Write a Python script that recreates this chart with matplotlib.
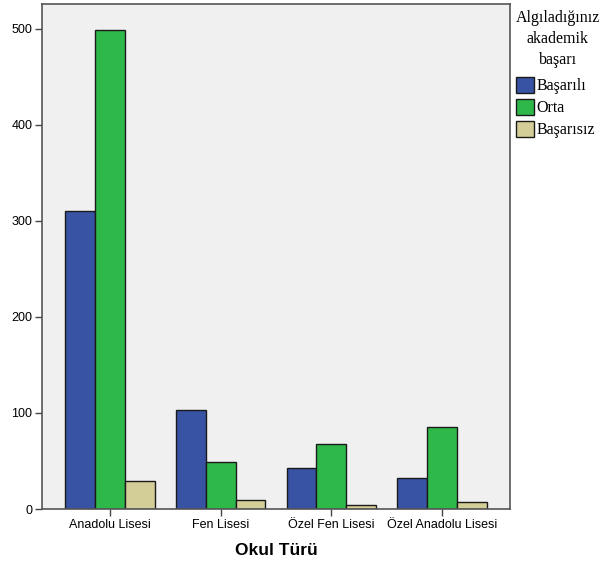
import matplotlib
matplotlib.use('Agg')
import matplotlib.pyplot as plt
import numpy as np
from matplotlib.patches import Patch

# data
categories = ['Anadolu Lisesi', 'Fen Lisesi', 'Özel Fen Lisesi', 'Özel Anadolu Lisesi']
basarili = [310, 103, 43, 32]
orta = [499, 49, 68, 85]
basarisiz = [29, 9, 4, 7]
series_names = ['Başarılı', 'Orta', 'Başarısız']
colors = ['#3953a4', '#2fb84a', '#d3ce97']

fig = plt.figure(figsize=(6, 5.66), dpi=100)
ax = fig.add_axes([0.07, 0.1007, 0.78, 0.8923])
ax.set_facecolor('#f0f0f0')

x = np.arange(len(categories))
w = 0.27
for i, (vals, c) in enumerate(zip([basarili, orta, basarisiz], colors)):
    ax.bar(x + (i - 1) * w, vals, w, color=c, edgecolor='#1a1a1a', linewidth=1.0)

ax.set_xlim(-0.61, 3.61)
ax.set_ylim(0, 526)
ax.set_yticks([0, 100, 200, 300, 400, 500])
ax.set_xticks(x)
ax.set_xticklabels(categories, fontsize=9, family='Liberation Sans')
for lab in ax.get_yticklabels():
    lab.set_fontsize(9)
    lab.set_family('Liberation Sans')
ax.tick_params(direction='out', length=5, width=1, color='#444444', pad=2)
for s in ax.spines.values():
    s.set_color('#555555')
    s.set_linewidth(1.2)

ax.set_xlabel('Okul Türü', fontsize=12.5, fontweight='bold', family='Liberation Sans', labelpad=9)

handles = [Patch(facecolor=c, edgecolor='#1a1a1a', label=n) for c, n in zip(colors, series_names)]
leg = ax.legend(handles=handles, title='Algıladığınız\nakademik\nbaşarı', loc='upper left',
                bbox_to_anchor=(1.0, 1.0), frameon=False,
                prop={'family': 'Liberation Serif', 'size': 11.5},
                handlelength=1.15, handleheight=1.15, handletextpad=0.15,
                labelspacing=0.3, borderaxespad=0.0, borderpad=0.35)
leg.get_title().set_family('Liberation Serif')
leg.get_title().set_fontsize(11.5)
leg.get_title().set_multialignment('center')
leg.get_title().set_linespacing(1.45)
leg._legend_box.align = 'left'
leg._legend_box.sep = 6

fig.savefig('out.png', dpi=100)
